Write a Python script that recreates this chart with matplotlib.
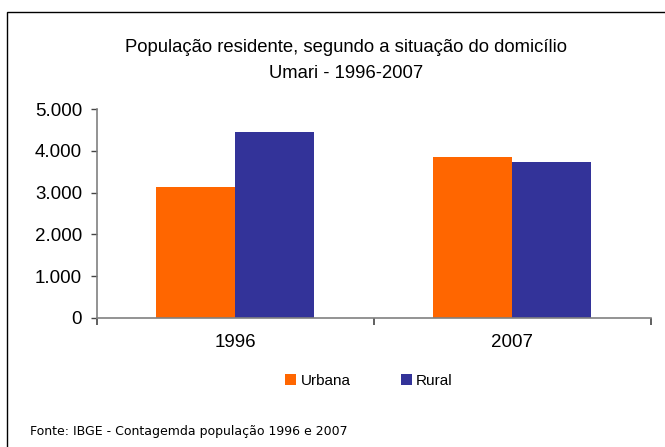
import matplotlib
matplotlib.use("Agg")
import matplotlib.pyplot as plt
from matplotlib.patches import Rectangle
from matplotlib.ticker import FuncFormatter, FixedLocator
import numpy as np

categories = ["1996", "2007"]
urbana = [3136, 3856]
rural = [4455, 3736]
yticks = [0, 1000, 2000, 3000, 4000, 5000]

plt.rcParams['font.family'] = ['Liberation Sans', 'DejaVu Sans']

fig = plt.figure(figsize=(6.65, 4.47), dpi=100)
W, H = 665, 447
ax = fig.add_axes([96.7 / W, 1 - 317.7 / H, 554 / W, (317.7 - 109.3) / H])

x = np.arange(len(categories))
bw = 0.285
ax.bar(x - bw / 2, urbana, bw, color="#FF6600", label="Urbana")
ax.bar(x + bw / 2, rural, bw, color="#333399", label="Rural")

ax.set_xlim(-0.5, len(categories) - 0.5)
ax.set_ylim(0, 5000)
ax.set_yticks(yticks)
ax.yaxis.set_major_formatter(FuncFormatter(lambda v, p: f"{int(v):,}".replace(",", ".")))
ax.xaxis.set_major_locator(FixedLocator(x))
ax.set_xticklabels(categories)
ax.xaxis.set_minor_locator(FixedLocator(np.arange(len(categories) + 1) - 0.5))
ax.tick_params(axis='x', which='major', length=0, pad=12, labelsize=13.5)
ax.tick_params(axis='x', which='minor', length=5, color='#444444', width=1.2)
ax.tick_params(axis='y', length=4.3, color='#444444', width=1, pad=6.3, labelsize=13.5)
for s in ['top', 'right']:
    ax.spines[s].set_visible(False)
for s in ['left', 'bottom']:
    ax.spines[s].set_color('#808080')
    ax.spines[s].set_linewidth(1.2)

fig.text(346 / W, 1 - 47 / H, "População residente, segundo a situação do domicílio",
         ha='center', va='center', fontsize=13.3)
fig.text(346 / W, 1 - 73 / H, "Umari - 1996-2007", ha='center', va='center', fontsize=13.3)

handles, labels = ax.get_legend_handles_labels()
fig.legend(handles, labels, loc='center', bbox_to_anchor=(369 / W, 1 - 381 / H), ncol=2,
           frameon=False, fontsize=11, handlelength=0.7, handleheight=0.7,
           handletextpad=0.3, columnspacing=3.3)

fig.text(30 / W, 1 - 431 / H, "Fonte: IBGE - Contagemda população 1996 e 2007",
         ha='left', va='center', fontsize=9, family=['DejaVu Sans'])

fig.patches.append(Rectangle((7 / W, -0.1), 1.0, 1 - 12 / H + 0.1, transform=fig.transFigure,
                             fill=False, edgecolor='black', linewidth=1.0))

fig.savefig("out.png", dpi=100)
